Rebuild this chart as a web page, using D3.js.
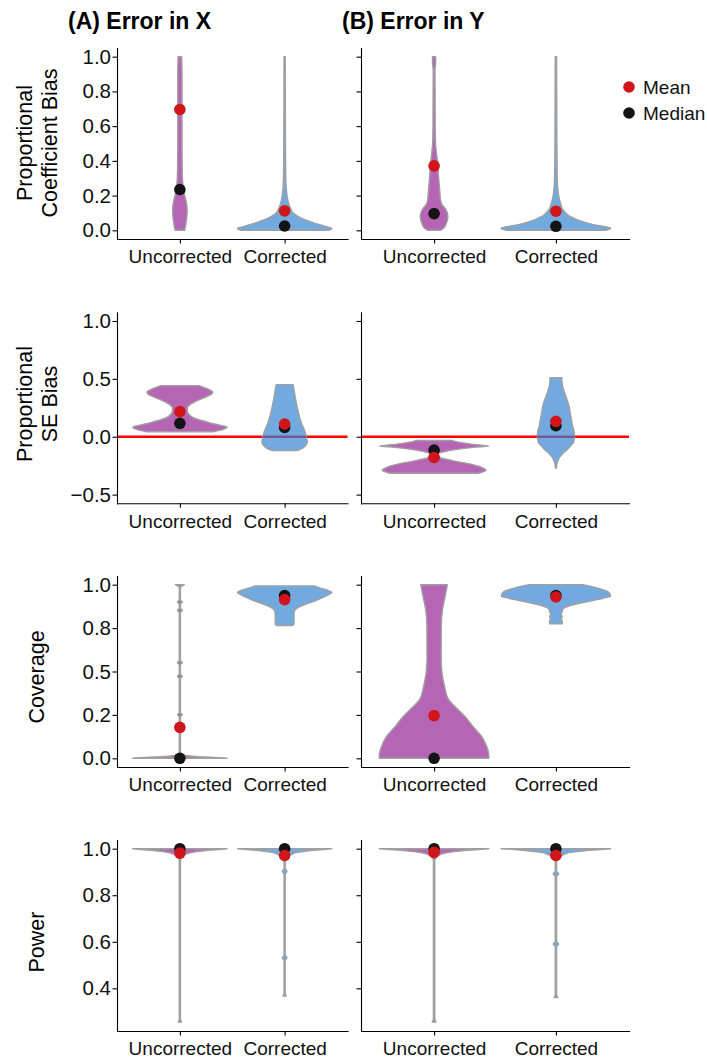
<!DOCTYPE html>
<html><head><meta charset="utf-8">
<script src="https://cdn.jsdelivr.net/npm/d3@7"></script>
<style>
body{margin:0;background:#fff}
svg{display:block}
text{font-family:"Liberation Sans",Arial,Helvetica,sans-serif}
</style>
</head><body>
<svg id="c" width="707" height="1061"></svg>
<script>
// ---------------- DATA ----------------
const categories = ["Uncorrected", "Corrected"];
const panelTitles = ["(A) Error in X", "(B) Error in Y"];
const metricTitles = [["Proportional", "Coefficient Bias"], ["Proportional", "SE Bias"], ["Coverage"], ["Power"]];
const dataLimits = [[0, 1], [-0.5, 1], [0, 1], [0.254, 1]];
const tickValues = [[0, 0.2, 0.4, 0.6, 0.8, 1], [-0.5, 0, 0.5, 1], [0, 0.25, 0.5, 0.75, 1], [0.4, 0.6, 0.8, 1]];
const tickLabels = [["0.0", "0.2", "0.4", "0.6", "0.8", "1.0"], ["\u22120.5", "0.0", "0.5", "1.0"], ["0.0", "0.2", "0.5", "0.8", "1.0"], ["0.4", "0.6", "0.8", "1.0"]];
const referenceLine = [null, 0, null, null];

// violin profiles: [value, relative half-width]
const coefX_unc = [[0,0.102],[0.03,0.123],[0.07,0.144],[0.11,0.155],[0.15,0.144],[0.19,0.113],[0.23,0.081],[0.28,0.059],[0.35,0.049],[0.5,0.045],[0.7,0.045],[0.9,0.045],[1.0,0.038]];
const coefX_cor = [[0,0.92],[0.006,0.98],[0.012,1.0],[0.02,0.9],[0.03,0.78],[0.04,0.65],[0.05,0.54],[0.06,0.44],[0.07,0.35],[0.085,0.255],[0.1,0.18],[0.125,0.128],[0.15,0.09],[0.2,0.051],[0.25,0.032],[0.3,0.024],[0.5,0.018],[1.0,0.013]];
const coefY_unc = [[0,0.115],[0.01,0.17],[0.04,0.224],[0.08,0.252],[0.12,0.215],[0.15,0.142],[0.18,0.115],[0.22,0.106],[0.3,0.084],[0.4,0.06],[0.5,0.027],[0.6,0.02],[0.8,0.018],[0.92,0.016],[0.97,0.029],[1.0,0.029]];
const coefY_cor = [[0,0.89],[0.006,0.97],[0.012,1.0],[0.02,0.91],[0.03,0.73],[0.04,0.6],[0.05,0.49],[0.065,0.36],[0.08,0.255],[0.1,0.18],[0.12,0.125],[0.15,0.09],[0.2,0.05],[0.25,0.032],[0.3,0.024],[0.5,0.018],[1.0,0.013]];

const seX_unc = [[0.043,0.698],[0.055,0.849],[0.07,0.957],[0.082,1.0],[0.10,0.849],[0.12,0.633],[0.14,0.46],[0.16,0.309],[0.19,0.201],[0.22,0.158],[0.25,0.158],[0.28,0.222],[0.30,0.309],[0.32,0.417],[0.35,0.59],[0.37,0.676],[0.385,0.698],[0.40,0.654],[0.42,0.546],[0.442,0.406]];
const seX_cor = [[-0.12,0.26],[-0.11,0.33],[-0.1,0.374],[-0.08,0.438],[-0.05,0.482],[0,0.46],[0.05,0.428],[0.1,0.374],[0.15,0.33],[0.2,0.298],[0.3,0.244],[0.4,0.201],[0.45,0.179]];
const seY_unc = [[-0.315,0.819],[-0.30,0.911],[-0.289,0.948],[-0.266,0.874],[-0.237,0.671],[-0.208,0.357],[-0.18,0.116],[-0.15,0.07],[-0.127,0.209],[-0.107,0.449],[-0.092,0.726],[-0.081,1.0],[-0.064,0.689],[-0.049,0.468],[-0.032,0.32]];
const seY_cor = [[-0.27,0.01],[-0.24,0.015],[-0.2,0.043],[-0.17,0.079],[-0.14,0.135],[-0.11,0.209],[-0.08,0.264],[-0.05,0.32],[0,0.338],[0.05,0.329],[0.1,0.301],[0.15,0.283],[0.2,0.264],[0.25,0.246],[0.3,0.218],[0.35,0.181],[0.4,0.144],[0.45,0.116],[0.51,0.107]];

const covX_unc = [[0,1.0],[0.004,0.84],[0.008,0.52],[0.012,0.25],[0.016,0.1],[0.02,0.04],[0.03,0.012],
  [0.239,0.012],[0.251,0.05],[0.263,0.012],[0.46,0.012],[0.472,0.05],[0.484,0.012],[0.539,0.012],[0.551,0.05],[0.563,0.012],
  [0.84,0.012],[0.852,0.05],[0.864,0.012],[0.888,0.012],[0.90,0.05],[0.912,0.012],[0.985,0.012],[0.995,0.06],[1.0,0.095]];
const covX_cor = [[0.765,0.17],[0.772,0.2],[0.8,0.2],[0.83,0.2],[0.85,0.211],[0.865,0.265],[0.88,0.373],[0.895,0.524],[0.91,0.675],[0.925,0.804],[0.94,0.912],[0.955,1.0],[0.97,0.89],[0.98,0.76],[0.993,0.63]];
const covY_unc = [[0,1.0],[0.021,1.0],[0.069,0.957],[0.127,0.865],[0.184,0.708],[0.242,0.56],[0.3,0.375],[0.338,0.264],[0.415,0.19],[0.568,0.129],[0.76,0.131],[0.856,0.153],[0.93,0.2],[1.0,0.242]];
const covY_cor = [[0.775,0.116],[0.79,0.116],[0.805,0.094],[0.815,0.116],[0.83,0.094],[0.845,0.116],[0.86,0.126],[0.87,0.172],[0.88,0.264],[0.895,0.468],[0.91,0.689],[0.922,0.856],[0.935,1.0],[0.96,0.948],[0.98,0.763],[1.0,0.486]];

const powX_unc = [[0.2547,0.035],[0.262,0.02],[0.27,0.012],[0.95,0.012],[0.962,0.04],[0.97,0.07],[0.977,0.135],[0.986,0.31],[0.993,0.61],[1.0,1.0]];
const powX_cor = [[0.367,0.035],[0.374,0.02],[0.382,0.012],[0.52,0.012],[0.531,0.05],[0.542,0.012],[0.89,0.012],[0.902,0.05],[0.914,0.012],[0.94,0.012],[0.955,0.04],[0.965,0.075],[0.975,0.14],[0.985,0.3],[0.993,0.6],[1.0,1.0]];
const powY_unc = [[0.2547,0.035],[0.262,0.02],[0.27,0.012],[0.95,0.012],[0.962,0.04],[0.97,0.07],[0.977,0.135],[0.986,0.31],[0.993,0.61],[1.0,1.0]];
const powY_cor = [[0.36,0.035],[0.367,0.02],[0.375,0.012],[0.578,0.012],[0.59,0.05],[0.602,0.012],[0.88,0.012],[0.892,0.05],[0.904,0.012],[0.94,0.012],[0.955,0.04],[0.965,0.075],[0.975,0.14],[0.985,0.3],[0.993,0.6],[1.0,1.0]];

const violins = [
  [[coefX_unc, coefX_cor], [coefY_unc, coefY_cor]],
  [[seX_unc, seX_cor], [seY_unc, seY_cor]],
  [[covX_unc, covX_cor], [covY_unc, covY_cor]],
  [[powX_unc, powX_cor], [powY_unc, powY_cor]]
];
// [row][panel][category]
const meanValues = [
  [[0.696, 0.112], [0.371, 0.11]],
  [[0.217, 0.11], [-0.179, 0.133]],
  [[0.178, 0.914], [0.246, 0.929]],
  [[0.981, 0.971], [0.984, 0.971]]
];
const medianValues = [
  [[0.235, 0.025], [0.096, 0.023]],
  [[0.116, 0.08], [-0.116, 0.095]],
  [[0.0, 0.937], [0.0, 0.937]],
  [[1.0, 1.0], [1.0, 1.0]]
];
const legendLabels = ["Mean", "Median"];

// ---------------- LAYOUT / STYLE ----------------
const fills = ["#b665b5", "#72aadf"];
const violinStroke = "#a0a0a0";
const meanColor = "#d0161b", medianColor = "#141414";
const colX = [[117, 347.5], [361, 629]];
const rowTop = [48, 312.3, 576, 840];
const plotH = 191;
const titleX = [68, 342];
const yTitleCy = [143, 404, 677, 942];

const svg = d3.select("#c");
const area = d3.area().curve(d3.curveMonotoneY);
let clipId = 0;

panelTitles.forEach((t, c) => {
  svg.append("text").attr("x", titleX[c]).attr("y", 28.5)
    .attr("font-size", 23).attr("font-weight", "bold").attr("fill", "#000").text(t);
});

for (let r = 0; r < 4; r++) {
  const lim = dataLimits[r];
  const pad = (lim[1] - lim[0]) * 0.05;
  const y = d3.scaleLinear().domain([lim[0] - pad, lim[1] + pad]).range([rowTop[r] + plotH, rowTop[r]]);

  // y title
  const lines = metricTitles[r];
  const tg = svg.append("text").attr("font-size", 21.5).attr("fill", "#000").attr("text-anchor", "middle");
  if (lines.length === 2) {
    tg.attr("transform", `translate(32,${yTitleCy[r]}) rotate(-90)`);
    tg.append("tspan").attr("x", 0).attr("y", 0).text(lines[0]);
    tg.append("tspan").attr("x", 0).attr("y", 24.5).text(lines[1]);
  } else {
    tg.attr("transform", `translate(43.5,${yTitleCy[r]}) rotate(-90)`).text(lines[0]);
  }

  for (let c = 0; c < 2; c++) {
    const x = d3.scaleLinear().domain([0.4, 2.6]).range(colX[c]);
    const maxHalf = x(1.45) - x(1);
    const g = svg.append("g");

    if (referenceLine[r] !== null) {
      g.append("line").attr("x1", colX[c][0]).attr("x2", colX[c][1])
        .attr("y1", y(referenceLine[r])).attr("y2", y(referenceLine[r]))
        .attr("stroke", "#ff0000").attr("stroke-width", 2.7);
    }

    violins[r][c].forEach((prof, k) => {
      const cx = x(k + 1);
      area.y(d => y(d[0])).x0(d => cx - d[1] * maxHalf).x1(d => cx + d[1] * maxHalf);
      const dPath = area(prof);
      g.append("path").attr("d", dPath).attr("fill", fills[k])
        .attr("stroke", violinStroke).attr("stroke-width", 1.4).attr("stroke-linejoin", "round");
      if (referenceLine[r] !== null) {
        const id = "clip" + (clipId++);
        svg.append("clipPath").attr("id", id).append("path").attr("d", dPath);
        g.append("line").attr("clip-path", `url(#${id})`)
          .attr("x1", colX[c][0]).attr("x2", colX[c][1])
          .attr("y1", y(referenceLine[r])).attr("y2", y(referenceLine[r]))
          .attr("stroke", "#77569a").attr("stroke-width", 2.7);
      }
    });

    categories.forEach((cat, k) => {
      g.append("circle").attr("cx", x(k + 1)).attr("cy", y(medianValues[r][c][k])).attr("r", 5.8).attr("fill", medianColor);
    });
    categories.forEach((cat, k) => {
      g.append("circle").attr("cx", x(k + 1)).attr("cy", y(meanValues[r][c][k])).attr("r", 5.8).attr("fill", meanColor);
    });

    const xAxis = d3.axisBottom(x).tickValues([1, 2]).tickFormat(d => categories[d - 1])
      .tickSize(4.5).tickSizeOuter(0).tickPadding(6.5);
    const gx = svg.append("g").attr("transform", `translate(0,${rowTop[r] + plotH})`).call(xAxis);
    const yAxis = d3.axisLeft(y).tickValues(tickValues[r])
      .tickFormat((d, i) => c === 0 ? tickLabels[r][i] : "")
      .tickSize(4.5).tickSizeOuter(0).tickPadding(1.5);
    const gy = svg.append("g").attr("transform", `translate(${colX[c][0]},0)`).call(yAxis);
    [gx, gy].forEach(a => {
      a.attr("font-family", null);
      a.select(".domain").attr("stroke", "#000").attr("stroke-width", 1.1).attr("stroke-linecap", "square");
      a.selectAll(".tick line").attr("stroke", "#000").attr("stroke-width", 1.1);
      a.selectAll(".tick text").attr("fill", "#111");
    });
    gx.attr("font-size", 19);
    gy.attr("font-size", 20.5);
  }
}

legendLabels.forEach((lab, i) => {
  const yy = 87 + i * 26;
  svg.append("circle").attr("cx", 629).attr("cy", yy).attr("r", 5.8).attr("fill", i === 0 ? meanColor : medianColor);
  svg.append("text").attr("x", 643).attr("y", yy + 6.8).attr("font-size", 19).attr("fill", "#111").text(lab);
});
</script>
</body></html>
